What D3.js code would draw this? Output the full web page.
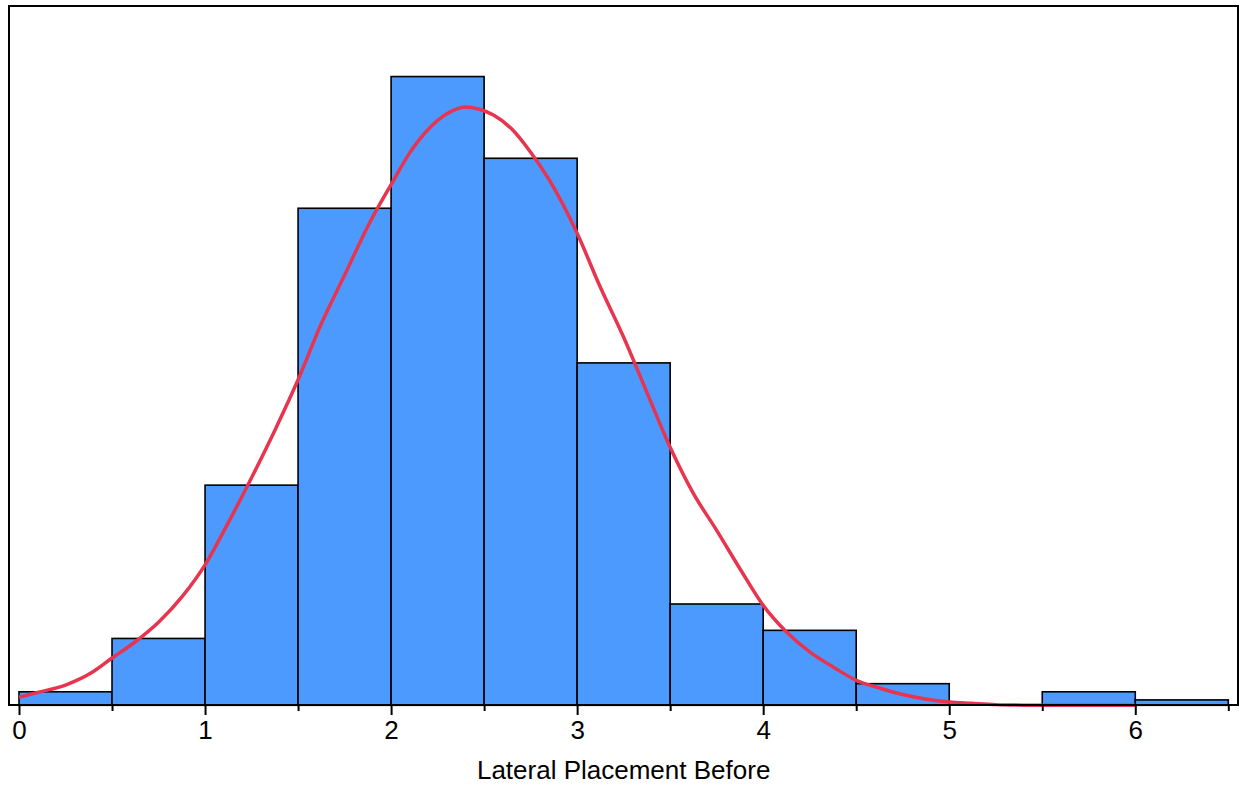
<!DOCTYPE html>
<html>
<head>
<meta charset="utf-8">
<script src="https://cdn.jsdelivr.net/npm/d3@7"></script>
<style>
  html, body { margin: 0; padding: 0; background: #fff; }
  svg { display: block; }
  text { font-family: "Liberation Sans", Arial, sans-serif; fill: #000; }
</style>
</head>
<body>
<svg id="chart" width="1245" height="789"></svg>
<script>
// ---- data ----
const binStarts = [0, 0.5, 1, 1.5, 2, 2.5, 3, 3.5, 4, 4.5, 5, 5.5, 6];
const binWidth = 0.5;
const binValues = [2.0, 9.9, 32.6, 73.6, 93.1, 81.0, 50.7, 15.0, 11.1, 3.2, 0, 2.0, 0.8];

const curveX = [0.00, 0.10, 0.25, 0.40, 0.50, 0.62, 0.75, 0.88, 1.00, 1.12, 1.25, 1.38, 1.50, 1.62, 1.75, 1.88, 2.00, 2.10, 2.20, 2.30, 2.40, 2.47, 2.55, 2.65, 2.75, 2.85, 3.00, 3.12, 3.25, 3.38, 3.50, 3.62, 3.75, 3.88, 4.00, 4.12, 4.25, 4.38, 4.50, 4.62, 4.75, 4.88, 5.00, 5.12, 5.25, 5.40, 5.55, 6.00];
const curveY = [1.2, 1.9, 3.0, 5.0, 7.0, 9.3, 12.3, 16.2, 20.8, 26.8, 33.7, 41.0, 48.2, 56.2, 63.7, 71.2, 77.1, 81.8, 85.3, 87.6, 88.6, 88.3, 87.4, 85.3, 81.9, 77.8, 69.9, 62.2, 54.5, 46.0, 38.2, 31.6, 25.9, 20.0, 14.8, 11.0, 7.9, 5.6, 3.7, 2.6, 1.6, 0.9, 0.5, 0.3, 0.1, 0.02, 0, 0];

const xTicks = [0, 1, 2, 3, 4, 5, 6];
const xMinorTicks = [0.5, 1.5, 2.5, 3.5, 4.5, 5.5, 6.5];
const xTitle = "Lateral Placement Before";
const yMax = 103.4;

// ---- layout ----
const svg = d3.select("#chart");
const frame = { left: 9, top: 6, right: 1238, bottom: 705 };

const x = d3.scaleLinear().domain([0, 6.5]).range([19, 1228.3]);
const y = d3.scaleLinear().domain([0, yMax]).range([705.3, 7]);

// bars
const bars = binStarts.map((s, i) => ({ x0: s, x1: s + binWidth, v: binValues[i] }));
svg.append("g").selectAll("rect")
  .data(bars.filter(d => d.v > 0))
  .join("rect")
  .attr("x", d => x(d.x0))
  .attr("width", d => x(d.x1) - x(d.x0))
  .attr("y", d => y(d.v))
  .attr("height", d => y(0) - y(d.v))
  .attr("fill", "#4d9aff")
  .attr("stroke", "#000")
  .attr("stroke-width", 1.6);

// density curve
const pts = curveX.map((cx, i) => [cx, curveY[i]]);
svg.append("path")
  .datum(pts)
  .attr("fill", "none")
  .attr("stroke", "#e8344e")
  .attr("stroke-width", 3.5)
  .attr("stroke-linejoin", "round")
  .attr("d", d3.line().x(d => x(d[0])).y(d => y(d[1])).curve(d3.curveMonotoneX));

// frame
svg.append("rect")
  .attr("x", frame.left).attr("y", frame.top)
  .attr("width", frame.right - frame.left)
  .attr("height", frame.bottom - frame.top)
  .attr("fill", "none")
  .attr("stroke", "#000")
  .attr("stroke-width", 2);

// x axis
const axisG = svg.append("g").attr("transform", `translate(0,${frame.bottom})`);
const xAxis = d3.axisBottom(x).tickValues(xTicks).tickFormat(d3.format("d")).tickSize(10).tickPadding(6);
axisG.call(xAxis);
axisG.select(".domain").remove();
axisG.selectAll(".tick line").attr("stroke", "#000").attr("stroke-width", 2);
axisG.selectAll(".tick text")
  .attr("font-family", "'Liberation Sans', Arial, sans-serif")
  .attr("font-size", 26)
  .attr("fill", "#000");

const minorG = svg.append("g").attr("transform", `translate(0,${frame.bottom})`);
minorG.call(d3.axisBottom(x).tickValues(xMinorTicks).tickFormat("").tickSize(6));
minorG.select(".domain").remove();
minorG.selectAll(".tick line").attr("stroke", "#000").attr("stroke-width", 2);

// axis line
svg.append("line")
  .attr("x1", frame.left).attr("x2", frame.right)
  .attr("y1", frame.bottom).attr("y2", frame.bottom)
  .attr("stroke", "#000").attr("stroke-width", 2);

// axis title
svg.append("text")
  .attr("x", (x(0) + x(6.5)) / 2)
  .attr("y", 779)
  .attr("text-anchor", "middle")
  .attr("font-size", 26)
  .text(xTitle);
</script>
</body>
</html>
